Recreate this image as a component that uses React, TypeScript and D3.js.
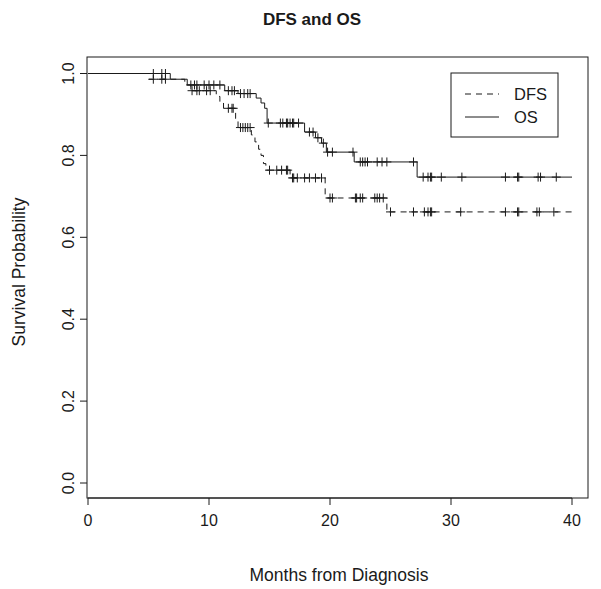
import React from "react";
import * as d3 from "d3";

const W = 601;
const H = 589;

// Overall survival: step times (months) and survival after each step
const osTimes = [6.8, 8.2, 11.3, 12.4, 13.9, 14.3, 14.6, 14.8, 17.9, 18.8, 19.3, 19.7, 22.0, 27.2];
const osSurv = [0.986, 0.972, 0.958, 0.951, 0.94, 0.928, 0.915, 0.879, 0.857, 0.843, 0.83, 0.808, 0.784, 0.747];
const osCensor = [5.4, 6.1, 6.4, 8.5, 8.8, 9.0, 9.6, 10.0, 10.4, 10.9, 11.6, 11.9, 12.1, 12.6, 12.9, 13.2, 13.4, 14.9,
  15.9, 16.1, 16.4, 16.5, 16.7, 16.9, 17.0, 17.4, 18.3, 18.6, 19.0, 19.45, 19.8, 20.2, 21.9,
  22.5, 22.7, 22.9, 23.1, 23.9, 24.3, 24.7, 26.9, 27.7, 28.1, 28.3, 28.4, 29.2, 30.9, 34.5, 35.5, 35.6, 37.2, 37.4, 38.7];

// Disease-free survival
const dfsTimes = [5.0, 8.0, 8.5, 10.6, 10.9, 11.2, 12.2, 12.4, 13.5, 13.8, 14.1, 14.3, 14.5, 14.7, 16.7, 19.6, 24.7];
const dfsSurv = [0.986, 0.972, 0.958, 0.944, 0.93, 0.915, 0.89, 0.868, 0.85, 0.833, 0.815, 0.8, 0.78, 0.764, 0.745, 0.696, 0.662];
const dfsCensor = [5.4, 6.1, 6.4, 8.6, 9.0, 9.2, 9.8, 10.1, 11.6, 11.9, 12.0, 12.6, 12.8, 13.0, 13.2, 13.4,
  15.0, 15.6, 16.0, 16.4, 16.5, 16.9, 17.0, 17.3, 17.9, 18.3, 18.8, 19.3, 20.0, 20.2, 22.1, 22.2, 22.5, 22.7,
  23.7, 23.9, 24.1, 24.4, 25.0, 26.9, 27.8, 28.1, 28.3, 28.4, 30.8, 34.5, 35.5, 35.6, 37.1, 37.3, 38.5];

const xTicks = [0, 10, 20, 30, 40];
const yTicks = [0, 0.2, 0.4, 0.6, 0.8, 1.0];
const maxTime = 40;

const FONT = "'Liberation Sans', Arial, Helvetica, sans-serif";
const INK = "#1a1a1a";

const box = { left: 87, right: 588, top: 57, bottom: 498 };
const x = d3.scaleLinear().domain([0, 40]).range([88, 572]);
const y = d3.scaleLinear().domain([0, 1]).range([483, 73.5]);

function survAt(times: number[], surv: number[], t: number) {
  let s = 1;
  for (let i = 0; i < times.length; i++) if (times[i] <= t) s = surv[i];
  return s;
}

function curvePoints(times: number[], surv: number[]): [number, number][] {
  const pts: [number, number][] = [[0, 1]];
  times.forEach((t, i) => pts.push([t, surv[i]]));
  pts.push([maxTime, surv[surv.length - 1]]);
  return pts;
}

const line = d3
  .line<[number, number]>()
  .x((d) => x(d[0]))
  .y((d) => y(d[1]))
  .curve(d3.curveStepAfter);

function crosses(times: number[], surv: number[], cens: number[]) {
  return cens
    .map((t) => {
      const cx = x(t);
      const cy = y(survAt(times, surv, t));
      return `M${cx - 4.5},${cy}h9M${cx},${cy - 4.5}v9`;
    })
    .join("");
}

export default function App() {
  const dash = "6,5";
  return (
    <svg width={W} height={H} style={{ position: "absolute", left: 0, top: 0, background: "#fff" }}>
      <rect x={0} y={0} width={W} height={H} fill="#fff" />
      <text x={312} y={25} textAnchor="middle" fontFamily={FONT} fontWeight="bold" fontSize={17} fill={INK}>
        DFS and OS
      </text>
      {/* box */}
      <rect x={box.left} y={box.top} width={box.right - box.left} height={box.bottom - box.top} fill="none" stroke={INK} strokeWidth={1} />
      {/* x axis */}
      <line x1={x(0)} x2={x(40)} y1={box.bottom} y2={box.bottom} stroke={INK} />
      {xTicks.map((t) => (
        <g key={"x" + t}>
          <line x1={x(t)} x2={x(t)} y1={box.bottom} y2={box.bottom + 7} stroke={INK} />
          <text x={x(t)} y={box.bottom + 28} textAnchor="middle" fontFamily={FONT} fontSize={16} fill={INK}>
            {t}
          </text>
        </g>
      ))}
      <text x={339} y={581} textAnchor="middle" fontFamily={FONT} fontSize={17.5} fill={INK}>
        Months from Diagnosis
      </text>
      {/* y axis */}
      {yTicks.map((t) => (
        <g key={"y" + t}>
          <line x1={box.left - 7} x2={box.left} y1={y(t)} y2={y(t)} stroke={INK} />
          <text
            transform={`translate(${box.left - 13},${y(t)}) rotate(-90)`}
            textAnchor="middle"
            fontFamily={FONT}
            fontSize={16}
            fill={INK}
          >
            {t.toFixed(1)}
          </text>
        </g>
      ))}
      <text transform={`translate(25,${272}) rotate(-90)`} textAnchor="middle" fontFamily={FONT} fontSize={17.5} fill={INK}>
        Survival Probability
      </text>
      {/* curves */}
      <path d={line(curvePoints(osTimes, osSurv)) || ""} fill="none" stroke={INK} strokeWidth={1} />
      <path d={line(curvePoints(dfsTimes, dfsSurv)) || ""} fill="none" stroke={INK} strokeWidth={1} strokeDasharray={dash} />
      <path d={crosses(osTimes, osSurv, osCensor)} fill="none" stroke={INK} strokeWidth={1} />
      <path d={crosses(dfsTimes, dfsSurv, dfsCensor)} fill="none" stroke={INK} strokeWidth={1} />
      {/* legend */}
      <rect x={451} y={73} width={107} height={64} fill="#fff" stroke={INK} strokeWidth={1} />
      <line x1={465} x2={499} y1={94} y2={94} stroke={INK} strokeDasharray={dash} />
      <line x1={465} x2={499} y1={117} y2={117} stroke={INK} />
      <text x={514} y={100} fontFamily={FONT} fontSize={16.5} fill={INK}>DFS</text>
      <text x={514} y={123} fontFamily={FONT} fontSize={16.5} fill={INK}>OS</text>
    </svg>
  );
}
